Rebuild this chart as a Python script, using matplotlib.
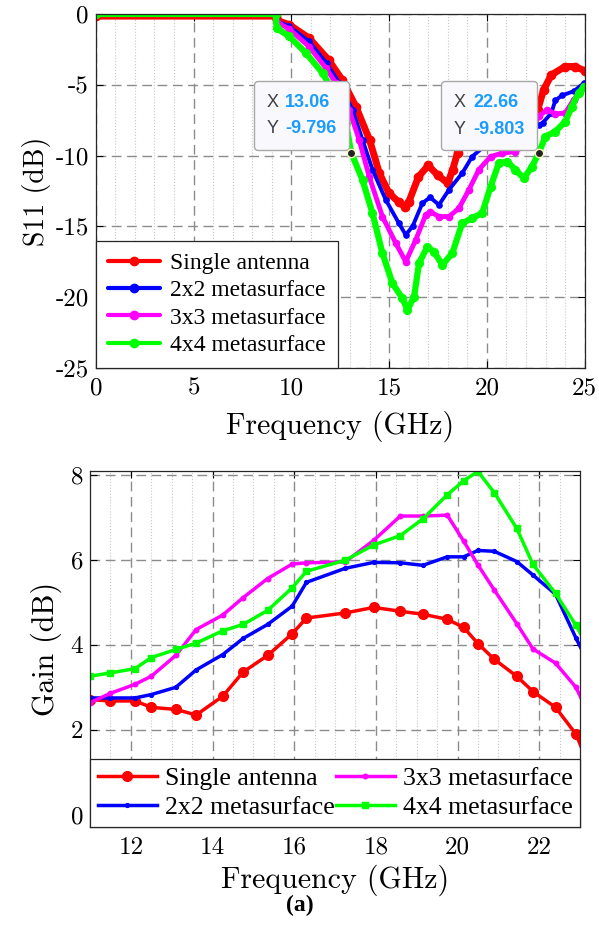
import numpy as np
import matplotlib
matplotlib.use("Agg")
import matplotlib.pyplot as plt
from matplotlib.offsetbox import TextArea, HPacker, VPacker, AnnotationBbox
from matplotlib.ticker import MultipleLocator

plt.rcParams["font.family"] = "cmr10"
plt.rcParams["axes.unicode_minus"] = False
plt.rcParams["xtick.direction"] = "in"
plt.rcParams["ytick.direction"] = "in"

labels = ["Single antenna", "2x2 metasurface", "3x3 metasurface", "4x4 metasurface"]
colors = ["#ff0000", "#0000ff", "#ff00ff", "#00ff00"]

# S11 curves (GHz, dB)
f_single = [0, 9.2, 9.25, 9.9, 10.9, 11.9, 12.6, 13.3, 14.0, 14.5, 15.0, 15.5, 15.8, 16.0,
            16.5, 17.0, 17.5, 18.0, 18.25, 18.5, 19.0, 19.5, 20.0, 20.5, 21.0, 21.5, 22.0,
            22.3, 22.6, 22.9, 23.3, 24.0, 24.5, 25.0]
s11_single = [-0.15, -0.15, -0.45, -0.76, -1.70, -3.24, -4.65, -6.54, -8.89, -11.24, -12.66, -13.3, -13.6, -13.3,
              -11.5, -10.7, -11.4, -11.95, -11.0, -9.8, -8.6, -7.9, -7.8, -8.0, -8.3, -8.6, -8.4,
              -7.6, -6.77, -5.36, -4.30, -3.71, -3.71, -4.0]

f_2x2 = [0, 9.2, 9.25, 9.9, 10.9, 11.8, 12.45, 13.13, 13.64, 14.15, 14.83, 15.5, 15.85, 16.2,
         16.7, 17.1, 17.55, 18.06, 18.74, 19.25, 19.85, 20.4, 21.0, 21.5, 22.0, 22.3, 22.65,
         22.85, 23.3, 23.5, 23.85, 24.45, 24.95]
s11_2x2 = [0, 0, -0.5, -0.88, -1.94, -3.47, -4.88, -6.77, -8.89, -11.0, -13.13, -14.78, -15.6, -15.0,
           -13.36, -12.95, -13.48, -12.42, -11.24, -10.07, -9.36, -9.0, -8.9, -9.0, -8.8, -8.3, -7.83,
           -7.7, -7.0, -6.1, -5.75, -5.45, -4.9]

f_3x3 = [0, 9.2, 9.25, 9.9, 10.9, 11.77, 12.28, 12.96, 13.47, 13.98, 14.66, 15.34, 15.85, 16.36,
         16.87, 17.1, 17.55, 18.06, 18.57, 19.08, 19.59, 20.19, 20.78, 21.46, 22.0, 22.3, 22.65,
         23.08, 23.5, 24.0, 24.44, 24.95]
s11_3x3 = [0, 0, -0.55, -1.07, -2.3, -3.82, -4.88, -6.77, -8.89, -11.48, -14.31, -16.19, -17.49, -15.96,
           -14.19, -13.96, -14.31, -14.31, -13.72, -12.42, -11.0, -10.07, -9.83, -9.72, -9.2, -8.2, -7.24,
           -6.77, -7.05, -7.0, -6.06, -5.12]

f_4x4 = [0, 9.2, 9.25, 9.9, 10.75, 11.6, 12.28, 12.79, 13.06, 13.64, 14.15, 14.66, 15.17, 15.68,
         15.94, 16.28, 16.53, 16.96, 17.3, 17.72, 18.23, 18.74, 19.25, 19.76, 20.19, 20.61, 21.04,
         21.46, 21.89, 22.31, 22.66, 22.99, 23.5, 24.01, 24.35, 24.69, 24.95]
s11_4x4 = [0, 0, -1.0, -1.59, -2.76, -4.18, -5.83, -7.71, -9.796, -11.72, -14.07, -16.9, -19.02, -20.08,
           -20.9, -19.96, -17.6, -16.43, -16.8, -17.72, -16.9, -14.78, -14.42, -14.07, -12.19, -10.54, -10.42,
           -11.0, -11.6, -10.78, -9.803, -8.66, -8.3, -7.6, -6.54, -5.59, -5.17]

# datatips shown on the S11 plot
tip_x = [13.06, 22.66]
tip_y = [-9.796, -9.803]

# gain curves (GHz, dB)
f_gain = [11.0, 11.5, 12.1, 12.5, 13.1, 13.6, 14.25, 14.75, 15.35, 15.95, 16.3, 17.25,
          17.95, 18.6, 19.15, 19.75, 20.15, 20.5, 20.9, 21.45, 21.85, 22.4, 22.9, 23.2]
gain_single = [2.71, 2.68, 2.68, 2.53, 2.48, 2.35, 2.79, 3.36, 3.75, 4.26, 4.63, 4.75,
               4.88, 4.79, 4.72, 4.60, 4.41, 4.03, 3.66, 3.26, 2.90, 2.53, 1.90, 1.2]
gain_2x2 = [2.75, 2.75, 2.75, 2.83, 3.0, 3.41, 3.77, 4.15, 4.48, 4.91, 5.47, 5.80,
            5.94, 5.93, 5.87, 6.07, 6.07, 6.22, 6.20, 5.96, 5.64, 5.19, 4.16, 3.58]
gain_3x3 = [2.64, 2.86, 3.07, 3.26, 3.75, 4.36, 4.70, 5.11, 5.56, 5.90, 5.93, 5.95,
            6.46, 7.03, 7.03, 7.05, 6.44, 5.88, 5.29, 4.50, 3.90, 3.57, 3.0, 2.4]
gain_4x4 = [3.26, 3.34, 3.44, 3.70, 3.89, 4.04, 4.33, 4.48, 4.81, 5.34, 5.73, 5.99,
            6.35, 6.57, 6.96, 7.53, 7.86, 8.08, 7.58, 6.74, 5.89, 5.21, 4.46, 3.95]

s11_curves = [(f_single, s11_single), (f_2x2, s11_2x2), (f_3x3, s11_3x3), (f_4x4, s11_4x4)]
gain_curves = [gain_single, gain_2x2, gain_3x3, gain_4x4]


def style_axes(ax):
    ax.grid(which="major", color="#8c8c8c", linestyle=(0, (7, 4)), linewidth=1.0)
    ax.grid(which="minor", axis="x", color="#c8c8c8", linestyle=":", linewidth=0.8)
    ax.tick_params(which="both", top=True, right=True, labelsize=18, length=5, width=0.8)
    ax.tick_params(axis="x", pad=7)
    ax.tick_params(axis="y", pad=5)
    ax.tick_params(which="minor", length=0)
    for sp in ax.spines.values():
        sp.set_color("#262626")
        sp.set_linewidth(0.9)
    ax.set_axisbelow(True)


fig = plt.figure(figsize=(5.99, 9.38), dpi=100)

# ---- S11 ----
ax1 = fig.add_axes([0.160, 0.6077, 0.816, 0.3774])
top_lw = [5.0, 2.8, 3.5, 4.5]
top_ms = [6.0, 3.8, 4.5, 5.6]
for (f, s), c, lab, lw, ms in zip(s11_curves, colors, labels, top_lw, top_ms):
    ax1.plot(f, s, color=c, lw=lw, marker="o", ms=ms, label=lab,
             solid_joinstyle="round", solid_capstyle="round")
ax1.set_xlim(0, 25)
ax1.set_ylim(-25, 0)
ax1.set_yticks([0, -5, -10, -15, -20, -25])
ax1.xaxis.set_minor_locator(MultipleLocator(1))
style_axes(ax1)
ax1.set_xlabel("Frequency (GHz)", fontsize=21.5, labelpad=8)
ax1.set_ylabel("S11 (dB)", fontsize=20, labelpad=3)
leg1 = ax1.legend(loc="lower left", borderaxespad=0, fancybox=False, framealpha=1,
                  edgecolor="#262626", handlelength=2.2, handletextpad=0.45,
                  labelspacing=0.25, borderpad=0.5,
                  prop={"family": "Liberation Serif", "size": 17})
leg1.get_frame().set_linewidth(0.9)
for h in leg1.legend_handles:
    h.set_linewidth(3.0)
    h.set_markersize(6)

for tx, ty in zip(tip_x, tip_y):
    ax1.plot(tx, ty, "o", color="#222222", mec="#ffffc8", mew=1.0, ms=6, zorder=6)
    rows = []
    for name, val in (("X", f"{tx:.2f}"), ("Y", f"{ty:.3f}")):
        rows.append(HPacker(children=[
            TextArea(name, textprops=dict(color="#404040", fontsize=13, family="Liberation Sans")),
            TextArea(val, textprops=dict(color="#1a9cff", fontsize=13, family="Liberation Sans",
                                         fontweight="bold"))], pad=0, sep=5))
    box = VPacker(children=rows, pad=0, sep=7, align="left")
    ab = AnnotationBbox(box, (tx, ty), xybox=(-10.5, 11), xycoords="data", boxcoords="offset points",
                        box_alignment=(1, 0), zorder=5,
                        bboxprops=dict(boxstyle="round,pad=0.92,rounding_size=0.3",
                                       fc="#f9f9fd", ec="#a8a8a8", lw=1.0))
    ax1.add_artist(ab)

# ---- Gain ----
ax2 = fig.add_axes([0.1503, 0.1186, 0.818, 0.3793])
bot_marker = ["o", ".", ".", "s"]
bot_ms = [7, 5.5, 6.5, 5]
for g, c, lab, mk, ms in zip(gain_curves, colors, labels, bot_marker, bot_ms):
    ax2.plot(f_gain, g, color=c, lw=2.5, marker=mk, ms=ms, label=lab)
ax2.set_xlim(11, 23)
ax2.set_ylim(-0.28, 8.09)
ax2.set_xticks([12, 14, 16, 18, 20, 22])
ax2.set_yticks([0, 2, 4, 6, 8])
ax2.xaxis.set_minor_locator(MultipleLocator(0.5))
style_axes(ax2)
ax2.set_xlabel("Frequency (GHz)", fontsize=21.5, labelpad=4)
ax2.set_ylabel("Gain (dB)", fontsize=21.5, labelpad=6)
leg2 = ax2.legend(loc="lower left", bbox_to_anchor=(0, 0, 1, 0.2), mode="expand", ncol=2,
                  borderaxespad=0, fancybox=False, framealpha=1, edgecolor="#262626",
                  handlelength=2.3, handletextpad=0.3, labelspacing=0.25, borderpad=0.3,
                  columnspacing=0.8, prop={"family": "Liberation Serif", "size": 18.5})
leg2.get_frame().set_linewidth(0.9)

fig.text(0.5, 0.035, "(a)", ha="center", va="center", fontsize=17,
         family="Liberation Serif", fontweight="bold")

fig.savefig("out.png", dpi=100)
